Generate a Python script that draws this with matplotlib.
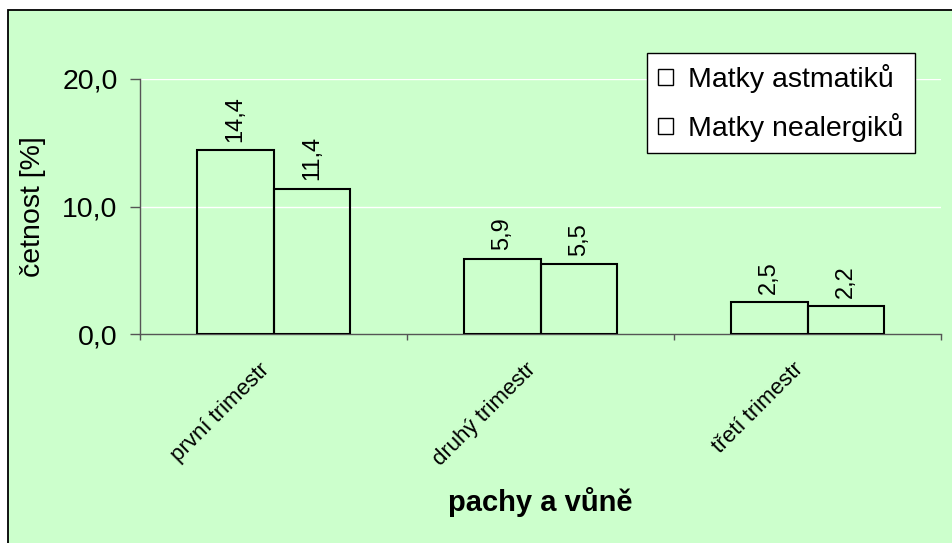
import numpy as np
import matplotlib
matplotlib.use("Agg")
import matplotlib.pyplot as plt
from matplotlib.patches import Rectangle, Patch

plt.rcParams['font.family'] = ['Liberation Sans', 'DejaVu Sans']

kategorie = ['první trimestr', 'druhý trimestr', 'třetí trimestr']
astmatici = [14.4, 5.9, 2.5]
nealergici = [11.4, 5.5, 2.2]
serie = ['Matky astmatiků', 'Matky nealergiků']
y_ticky = [0, 10, 20]
y_popisky = ['0,0', '10,0', '20,0']

zelena = '#CCFFCC'
seda = '#555555'

fig = plt.figure(figsize=(9.52, 5.43), dpi=100, facecolor='white')
# zeleny ramecek okolo celeho grafu
ramec = Rectangle((8 / 952, -0.05), 1.1, 1.05 - 10 / 543, transform=fig.transFigure,
                  facecolor=zelena, edgecolor='black', linewidth=1.3, zorder=-10)
fig.add_artist(ramec)

ax = fig.add_axes([140 / 952, 209 / 543, 801 / 952, 255 / 543])
ax.set_facecolor('none')

x = np.arange(len(kategorie))
w = 0.288
b1 = ax.bar(x - w / 2, astmatici, w, facecolor='none', edgecolor='black', linewidth=1.5, zorder=3)
b2 = ax.bar(x + w / 2, nealergici, w, facecolor='none', edgecolor='black', linewidth=1.5, zorder=3)

# popisky nad sloupci - uzsi pismo
for bars, vals in [(b1, astmatici), (b2, nealergici)]:
    for r, v in zip(bars, vals):
        ax.annotate(f'{v:.1f}'.replace('.', ','), (r.get_x() + r.get_width() / 2, r.get_height()),
                    xytext=(0, 6), textcoords='offset points', rotation=90,
                    ha='center', va='bottom', fontsize=17,
                    family=['Liberation Sans Narrow', 'Liberation Sans'])

ax.set_xlim(-0.5, len(kategorie) - 0.5)
ax.set_ylim(0, 20)

# mrizka - bile cary
for yy in y_ticky[1:]:
    ax.axhline(yy, color='white', linewidth=1, zorder=1)

ax.set_yticks(y_ticky)
ax.set_yticklabels(y_popisky, fontsize=20.5)
ax.tick_params(axis='y', direction='out', length=7.2, width=1, color=seda, pad=9)

ax.set_xticks(np.arange(len(kategorie) + 1) - 0.5)
ax.set_xticklabels([])
ax.tick_params(axis='x', which='major', direction='out', length=4.5, width=1, color=seda)
ax.set_xticks(x, minor=True)
ax.set_xticklabels(kategorie, minor=True, rotation=45, ha='right', va='top', fontsize=16)
ax.tick_params(axis='x', which='minor', length=0, pad=18)

for s in ['top', 'right']:
    ax.spines[s].set_visible(False)
for s in ['left', 'bottom']:
    ax.spines[s].set_color(seda)
    ax.spines[s].set_linewidth(1)

handles = [Patch(facecolor='white', edgecolor='black', linewidth=1) for _ in serie]
leg = ax.legend(handles, serie, loc='upper right', bbox_to_anchor=(915 / 952, 1 - 52.7 / 543),
                bbox_transform=fig.transFigure, borderaxespad=0, fontsize=20.5,
                handlelength=0.5, handleheight=0.5, handletextpad=0.55, labelspacing=0.7,
                fancybox=False, framealpha=1, edgecolor='black', borderpad=0.4)
leg.get_frame().set_linewidth(1)

fig.text(540.5 / 952, 1 - 502 / 543, 'pachy a vůně', ha='center', va='center',
         fontsize=21, fontweight='bold')
fig.text(33 / 952, 1 - 207 / 543, 'četnost [%]', ha='center', va='center',
         rotation=90, fontsize=20.5)

fig.savefig('out.png', dpi=100, facecolor=fig.get_facecolor())
